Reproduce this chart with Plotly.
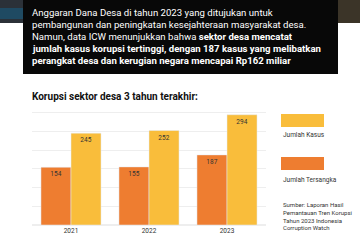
import plotly.graph_objects as go

years = ["2021", "2022", "2023"]
tersangka = [154, 155, 187]
kasus = [245, 252, 294]

ORANGE = "#EE7D30"
YELLOW = "#F9BD3B"
W, H = 360, 243

def px(x):
    return x / W

def py(y):
    return 1 - y / H

fig = go.Figure()
fig.add_trace(go.Bar(x=years, y=tersangka, name="Jumlah Tersangka", marker_color=ORANGE,
                     text=tersangka, textposition="inside", insidetextanchor="end",
                     textfont=dict(size=6.5, color="#333333", family="Roboto")))
fig.add_trace(go.Bar(x=years, y=kasus, name="Jumlah Kasus", marker_color=YELLOW,
                     text=kasus, textposition="inside", insidetextanchor="end",
                     textfont=dict(size=6.5, color="#333333", family="Roboto")))

shapes = [
    dict(type="rect", xref="paper", yref="paper", x0=0, x1=px(24), y0=py(23), y1=1,
         fillcolor="#2b3138", line_width=0, layer="below"),
    dict(type="rect", xref="paper", yref="paper", x0=0, x1=px(24), y0=py(19), y1=py(8),
         fillcolor="#1f4a62", line_width=0, layer="below"),
    dict(type="rect", xref="paper", yref="paper", x0=px(336), x1=1, y0=py(23), y1=1,
         fillcolor="#3b3428", line_width=0, layer="below"),
    dict(type="rect", xref="paper", yref="paper", x0=px(23), x1=px(338), y0=py(74), y1=1,
         fillcolor="#080808", line_width=0, layer="below"),
    dict(type="rect", xref="paper", yref="paper", x0=px(281), x1=px(324), y0=py(127), y1=py(114),
         fillcolor=YELLOW, line_width=0),
    dict(type="rect", xref="paper", yref="paper", x0=px(281), x1=px(324), y0=py(170), y1=py(157),
         fillcolor=ORANGE, line_width=0),
]

lines = [
    "Anggaran Dana Desa di tahun 2023 yang ditujukan untuk",
    "pembangunan dan peningkatan kesejahteraan masyarakat desa.",
    "Namun, data ICW menunjukkan bahwa <b>sektor desa mencatat</b>",
    "<b>jumlah kasus korupsi tertinggi, dengan 187 kasus yang melibatkan</b>",
    "<b>perangkat desa dan kerugian negara mencapai Rp162 miliar</b>",
]
line_y = [13, 25, 36.5, 48, 60]
annotations = []
for t, y in zip(lines, line_y):
    annotations.append(dict(text=t, xref="paper", yref="paper", x=px(29.5), y=py(y),
                            xanchor="left", yanchor="middle", showarrow=False,
                            font=dict(size=9.6, color="#ffffff", family="Roboto")))
annotations.append(dict(text="<b>Korupsi sektor desa 3 tahun terakhir:</b>", xref="paper", yref="paper",
                        x=px(30), y=py(96), xanchor="left", yanchor="middle", showarrow=False,
                        font=dict(size=10, color="#111111", family="Roboto")))
annotations.append(dict(text="Jumlah Kasus", xref="paper", yref="paper", x=px(280.5), y=py(135),
                        xanchor="left", yanchor="middle", showarrow=False,
                        font=dict(size=6.5, color="#333333", family="Roboto")))
annotations.append(dict(text="Jumlah Tersangka", xref="paper", yref="paper", x=px(280.5), y=py(180),
                        xanchor="left", yanchor="middle", showarrow=False,
                        font=dict(size=6.5, color="#333333", family="Roboto")))
src = ["Sumber: Laporan Hasil", "Pemantauan Tren Korupsi", "Tahun 2023 Indonesia", "Corruption Watch"]
annotations.append(dict(text="<br>".join(src), xref="paper", yref="paper", x=px(280.5), y=py(199),
                        xanchor="left", yanchor="top", align="left", showarrow=False,
                        font=dict(size=6, color="#333333", family="Roboto")))

fig.update_layout(
    width=W, height=H, margin=dict(l=0, r=0, t=0, b=0),
    paper_bgcolor="#ffffff", plot_bgcolor="#ffffff",
    barmode="group", bargap=0.23, bargroupgap=0,
    showlegend=False,
    shapes=shapes, annotations=annotations,
    xaxis=dict(domain=[px(32), px(266)], showgrid=False, showline=False, ticks="",
               tickfont=dict(size=6.5, color="#333333", family="Roboto")),
    yaxis=dict(domain=[py(225), py(105)], range=[0, 320], dtick=50, showticklabels=False,
               showgrid=True, gridcolor="#eeeeee", gridwidth=1, zeroline=True,
               zerolinecolor="#eeeeee", ticks=""),
    uniformtext=dict(minsize=5, mode="show"),
)
fig.write_html("out.html")
